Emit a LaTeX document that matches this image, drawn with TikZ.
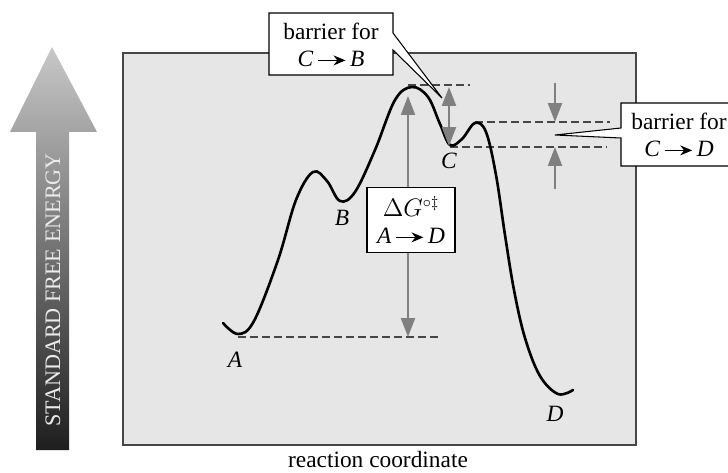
\documentclass[tikz,border=0pt]{standalone}
\usepackage{fontspec}
\setmainfont{Liberation Serif}
\usetikzlibrary{arrows.meta}
\definecolor{panel}{RGB}{230,230,230}
\definecolor{boxedge}{RGB}{70,70,70}
\definecolor{arrowgray}{RGB}{128,128,128}
\definecolor{levelgray}{RGB}{70,70,70}
\definecolor{axistop}{RGB}{200,200,200}
\definecolor{axisbottom}{RGB}{30,30,30}
\tikzset{
  >={Triangle[length=3.8mm,width=2.8mm]},
  curve/.style={line width=1.5pt,line join=round,line cap=round},
  level/.style={draw=levelgray,line width=0.6pt,dash pattern=on 1.6mm off 0.8mm},
  gap/.style={draw=arrowgray,line width=1.3pt},
  callout/.style={draw=black,fill=white,line width=0.6pt},
  tag/.style={font=\fontsize{13.3}{15}\selectfont,align=center},
  lbl/.style={font=\fontsize{13.3}{16}\selectfont\itshape},
}
\newcommand{\rxn}{\tikz[baseline=-0.55ex]\draw[-{Stealth[length=2.4mm,width=2mm]},line width=0.8pt] (0mm,0mm) -- (5.5mm,0mm);}

\begin{document}
\begin{tikzpicture}[x=0.02cm,y=-0.02cm]
  \clip (0,0) rectangle (728,473);
  \fill[white] (0,0) rectangle (728,473);

  % energy axis
  \shade[top color=axistop,bottom color=axisbottom]
    (52,47) -- (97,132) -- (69,132) -- (69,450) -- (36,450) -- (36,132) -- (10,132) -- cycle;
  \node[rotate=90,text=white!92!black,font=\fontsize{12.6}{15}\selectfont] (axis) at (53,290) {STANDARD FREE ENERGY};

  % panel
  \filldraw[fill=panel,draw=boxedge,line width=0.7pt] (123,53) rectangle (636,445);
  \node[font=\fontsize{13.3}{16}\selectfont] (xlab) at (378,460) {reaction coordinate};

  % levels
  \coordinate (lvA) at (238,337);
  \coordinate (lvP) at (408,85);
  \coordinate (lvC) at (450,147);
  \coordinate (lvT) at (475,122);
  \draw[level] (lvA) -- (438,337);
  \draw[level] (lvP) -- (470,85);
  \draw[level] (lvT) -- (610,122);
  \draw[level] (lvC) -- (607,147);

  % free energy profile
  \draw[curve] plot[smooth,tension=0.6] coordinates {
    (223,323) (238,334) (254,321) (278,260) (296,200) (313,172) (327,181) (340,201)
    (355,192) (375,150) (395,100) (412,87) (428,97) (440,124) (450,145)
    (462,139) (475,123) (486,132) (496,175) (505,235) (514,290) (525,338)
    (540,376) (558,394) (573,390)};
  \node[lbl] (A) at (235,360) {A};
  \node[lbl] (B) at (342,218) {B};
  \node[lbl] (C) at (449,161) {C};
  \node[lbl] (D) at (555,414) {D};

  % barrier arrows
  \coordinate (dgTop) at (408,96);
  \coordinate (dgBot) at (408,337);
  \draw[gap,<->] (dgTop) -- (dgBot);
  \node[tag,callout,minimum width=88*0.02cm,minimum height=65*0.02cm] (dG) at (411,220)
    {$\Delta G^{\circ\ddagger}$\\\textit{A}\,\rxn\,\textit{D}};
  \coordinate (cbTop) at (449,87);
  \coordinate (cbBot) at (449,146);
  \draw[gap,<->] (cbTop) -- (cbBot);
  \coordinate (cdHi) at (555,122);
  \coordinate (cdLo) at (555,147);
  \draw[gap,->] (555,83) -- (cdHi);
  \draw[gap,->] (555,189) -- (cdLo);

  % callouts
  \coordinate (cbTip) at (442,98);
  \coordinate (cdTip) at (555,135);
  \draw[callout] (269,13) -- (393,13) -- (393,33) -- (cbTip) -- (393,50) -- (393,75) -- (269,75) -- cycle;
  \node[tag] (cbText) at (331,45) {barrier for\\\textit{C}\,\rxn\,\textit{B}};
  \draw[callout] (740,103) -- (621,103) -- (621,128) -- (cdTip) -- (621,138) -- (621,166) -- (740,166) -- cycle;
  \node[tag] (cdText) at (679,135) {barrier for\\\textit{C}\,\rxn\,\textit{D}};
\end{tikzpicture}
\end{document}
